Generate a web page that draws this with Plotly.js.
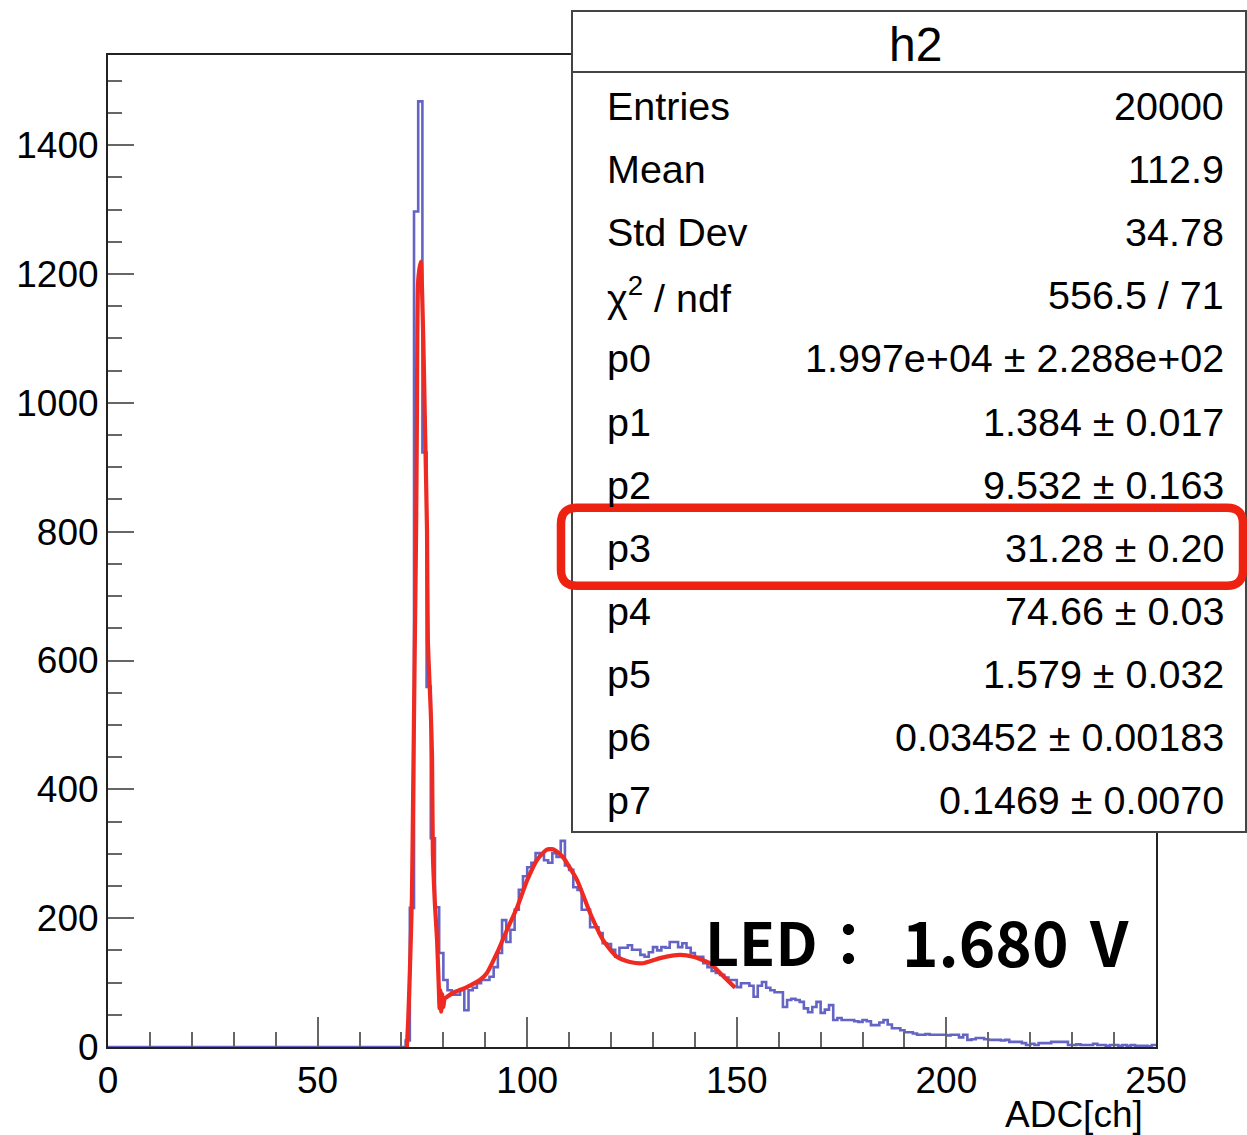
<!DOCTYPE html>
<html>
<head>
<meta charset="utf-8">
<script src="https://cdn.plot.ly/plotly-3.0.1.min.js"></script>
<style>
  html, body { margin: 0; padding: 0; background: #fff; }
  #chart { width: 1247px; height: 1135px; }
</style>
</head>
<body>
<div id="chart"></div>
<script>
// ---------------- DATA ----------------
// histogram h2: 1-unit bins from 0 to 250; bins before histStart are empty
const histStart = 70;
const histEnd = 250;
const counts = [
  0, 10, 216, 1297, 1468, 923, 559, 324, 217, 146,          // 70-79
  104, 88, 81, 81, 88, 57, 88, 92, 99, 104,                  // 80-89
  104, 109, 124, 146, 197, 163, 182, 213, 244, 265,          // 90-99
  279, 286, 301, 298, 290, 286, 301, 295, 320, 282,          // 100-109
  275, 248, 244, 213, 213, 186, 186, 177, 161, 160,          // 110-119
  151, 140, 154, 154, 158, 151, 151, 143, 140, 147,          // 120-129
  155, 150, 155, 154, 163, 163, 155, 161, 154, 146,          // 130-139
  140, 140, 130, 124, 118, 115, 112, 108, 104, 104,          // 140-149
  93, 99, 99, 95, 78, 95, 101, 92, 88, 85,                   // 150-159
  85, 62, 73, 75, 73, 70, 60, 54, 62, 70,                    // 160-169
  53, 58, 65, 42, 45, 42, 42, 42, 40, 39,                    // 170-179
  42, 40, 34, 34, 38, 42, 35, 29, 29, 26,                    // 180-189
  23, 23, 21, 19, 19, 20, 19, 19, 19, 19,                    // 190-199
  18, 19, 19, 15, 19, 11, 12, 14, 14, 12,                    // 200-209
  11, 11, 11, 10, 11, 8, 8, 8, 6, 3,                         // 210-219
  5, 3, 6, 6, 6, 8, 8, 8, 8, 3,                              // 220-229
  3, 4, 3, 3, 3, 5, 3, 3, 2, 3,                              // 230-239
  3, 2, 3, 2, 3, 2, 2, 2, 1, 3                               // 240-249
];

// fit function (red)
const fitX = [71.3, 71.6, 72.0, 72.5, 72.8, 73.2, 73.5, 73.7, 74.0, 74.6, 75.2, 75.6, 76.1, 76.3,
  77.0, 77.3, 77.5, 78.0, 78.5, 78.9, 79.1, 79.3, 79.5, 79.7, 80.0, 80.3, 80.9, 82.3, 85.6, 88.7,
  90.4, 92.8, 95.2, 97.6, 100.0, 102.3, 104.6, 106.2, 108.5, 110.0, 111.9, 115.0, 118.1, 121.4,
  124.5, 127.6, 131.7, 136.5, 139.6, 143.6, 146.0, 149.6];
const fitY = [0, 40, 115, 233, 399, 632, 802, 984, 1190, 1219, 1102, 969, 802, 632,
  520, 450, 300, 220, 166, 95, 60, 88, 55, 82, 62, 75, 78, 84, 93, 104,
  115, 146, 182, 217, 259, 290, 306, 307, 295, 280, 259, 208, 166, 140,
  132, 130, 138, 143, 140, 130, 115, 92];

// axis ticks
const xTicks = [0, 50, 100, 150, 200, 250];
const yTicks = [0, 200, 400, 600, 800, 1000, 1200, 1400];

// stats box
const statTitle = 'h2';
const statNames = ['Entries', 'Mean', 'Std Dev', 'χ<sup>2</sup> / ndf', 'p0', 'p1', 'p2', 'p3', 'p4', 'p5', 'p6', 'p7'];
const statValues = ['20000', '112.9', '34.78', '556.5 / 71', '1.997e+04 ± 2.288e+02', '1.384 ± 0.017',
  '9.532 ± 0.163', '31.28 ± 0.20', '74.66 ± 0.03', '1.579 ± 0.032', '0.03452 ± 0.00183', '0.1469 ± 0.0070'];
const highlightedRow = 7;   // p3
const ledWord = 'LED';
const ledColon = '：';
const ledValue = '1.680';
const ledUnit = 'V';
const xTitle = 'ADC[ch]';

// ---------------- BUILD ----------------
// histogram outline as step line through bin edges
const hx = [0, histStart];
const hy = [0, 0];
for (let i = 0; i < counts.length; i++) {
  hx.push(histStart + i);
  hy.push(counts[i]);
}
hx.push(histEnd);
hy.push(counts[counts.length - 1]);

const histTrace = {
  x: hx, y: hy, type: 'scatter', mode: 'lines',
  line: { shape: 'hv', color: 'rgba(40,40,175,0.72)', width: 2.6 },
  hoverinfo: 'skip', showlegend: false
};
const fitTrace = {
  x: fitX, y: fitY, type: 'scatter', mode: 'lines',
  line: { color: '#ee2a22', width: 4.2, shape: 'spline', smoothing: 0.6 },
  hoverinfo: 'skip', showlegend: false
};

// layout geometry helpers (pixel -> paper)
const L = 108, R = 1156, T = 55, B = 1047;
const PX = p => (p - L) / (R - L);
const PY = p => (B - p) / (B - T);

const FONT = 'Liberation Sans, Arial, Helvetica, sans-serif';
const CJK = 'Noto Sans CJK JP, Noto Sans, DejaVu Sans, sans-serif';
const shapes = [];
const annotations = [];

// stats box
shapes.push({ type: 'rect', xref: 'paper', yref: 'paper', layer: 'above',
  x0: PX(572), x1: PX(1246), y0: PY(832), y1: PY(11),
  fillcolor: '#ffffff', line: { color: '#444', width: 2 } });
shapes.push({ type: 'line', xref: 'paper', yref: 'paper', layer: 'above',
  x0: PX(572), x1: PX(1246), y0: PY(72), y1: PY(72),
  line: { color: '#444', width: 2 } });

annotations.push({ xref: 'paper', yref: 'paper', x: PX(915), y: PY(44), text: statTitle,
  showarrow: false, xanchor: 'center', yanchor: 'middle',
  font: { family: FONT, size: 48, color: '#000' } });

const rowTop = 106, rowStep = 63.1;
for (let i = 0; i < statNames.length; i++) {
  const yc = rowTop + i * rowStep;
  annotations.push({ xref: 'paper', yref: 'paper', x: PX(605), y: PY(yc), text: statNames[i],
    showarrow: false, xanchor: 'left', yanchor: 'middle',
    font: { family: FONT, size: 39.5, color: '#000' } });
  annotations.push({ xref: 'paper', yref: 'paper', x: PX(1226), y: PY(yc), text: statValues[i],
    showarrow: false, xanchor: 'right', yanchor: 'middle',
    font: { family: FONT, size: 39.5, color: '#000' } });
}

// red hand-drawn rounded highlight around p3 row
(function () {
  const yc = rowTop + highlightedRow * rowStep;
  const x0 = PX(561), x1 = PX(1243), y0 = PY(yc + 38), y1 = PY(yc - 40);
  const rx = 16 / (R - L), ry = 16 / (B - T);
  const p = `M ${x0 + rx},${y1} L ${x1 - rx},${y1} Q ${x1},${y1} ${x1},${y1 - ry} L ${x1},${y0 + ry} ` +
            `Q ${x1},${y0} ${x1 - rx},${y0} L ${x0 + rx},${y0} Q ${x0},${y0} ${x0},${y0 + ry} ` +
            `L ${x0},${y1 - ry} Q ${x0},${y1} ${x0 + rx},${y1} Z`;
  shapes.push({ type: 'path', xref: 'paper', yref: 'paper', layer: 'above', path: p,
    line: { color: '#ee2211', width: 8.5 } });
})();

// LED label (pieces placed to match the spacing of the reference)
annotations.push({ xref: 'paper', yref: 'paper', x: PX(703), y: PY(940), text: '<b>' + ledWord + '</b>',
  showarrow: false, xanchor: 'left', yanchor: 'middle', font: { family: CJK, size: 59, color: '#000' } });
annotations.push({ xref: 'paper', yref: 'paper', x: PX(848), y: PY(940), text: '<b>' + ledColon + '</b>',
  showarrow: false, xanchor: 'center', yanchor: 'middle', font: { family: CJK, size: 59, color: '#000' } });
annotations.push({ xref: 'paper', yref: 'paper', x: PX(900), y: PY(940), text: '<b>' + ledValue + '</b>',
  showarrow: false, xanchor: 'left', yanchor: 'middle', font: { family: CJK, size: 62, color: '#000' } });
annotations.push({ xref: 'paper', yref: 'paper', x: PX(1131), y: PY(940), text: '<b>' + ledUnit + '</b>',
  showarrow: false, xanchor: 'right', yanchor: 'middle', font: { family: CJK, size: 62, color: '#000' } });

// x title at right end (ROOT style)
annotations.push({ xref: 'paper', yref: 'paper', x: PX(1145), y: PY(1114), text: xTitle,
  showarrow: false, xanchor: 'right', yanchor: 'middle',
  font: { family: FONT, size: 37, color: '#000' } });

const layout = {
  width: 1247, height: 1135,
  margin: { l: L, r: 1247 - R, t: T, b: 1135 - B, pad: 0 },
  paper_bgcolor: '#fff', plot_bgcolor: '#fff',
  showlegend: false,
  xaxis: {
    range: [0, 250], tickmode: 'array', tickvals: xTicks, ticktext: xTicks.map(String),
    ticks: 'inside', ticklen: 30, tickwidth: 2, tickcolor: '#666',
    minor: { dtick: 10, tick0: 0, ticks: 'inside', ticklen: 15, tickwidth: 2, tickcolor: '#666', showgrid: false },
    showline: true, linecolor: '#222', linewidth: 2, mirror: true,
    showgrid: false, zeroline: false,
    tickfont: { family: FONT, size: 37, color: '#000' }
  },
  yaxis: {
    range: [0, 1540], tickmode: 'array', tickvals: yTicks, ticktext: yTicks.map(String),
    ticks: 'inside', ticklen: 26, tickwidth: 2, tickcolor: '#666',
    minor: { dtick: 50, tick0: 0, ticks: 'inside', ticklen: 14, tickwidth: 2, tickcolor: '#666', showgrid: false },
    showline: true, linecolor: '#222', linewidth: 2, mirror: true,
    showgrid: false, zeroline: false,
    tickfont: { family: FONT, size: 37, color: '#000' }
  },
  shapes: shapes,
  annotations: annotations
};

Plotly.newPlot('chart', [histTrace, fitTrace], layout, { displayModeBar: false, staticPlot: true });
</script>
</body>
</html>
